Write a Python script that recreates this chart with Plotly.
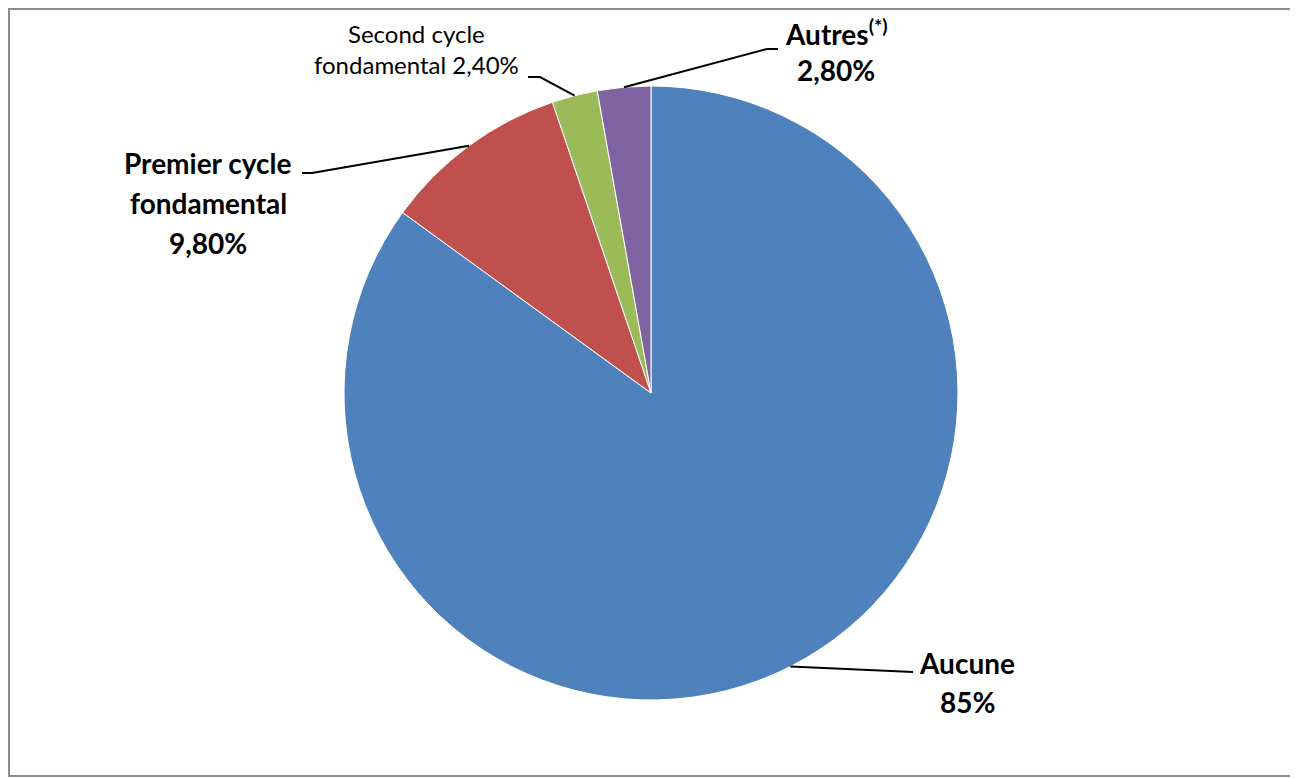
import math
import plotly.graph_objects as go

# data
labels = ["Aucune", "Premier cycle fondamental", "Second cycle fondamental", "Autres(*)"]
values = [85.0, 9.8, 2.4, 2.8]
colors = ["#4F81BD", "#C0504D", "#9BBB59", "#8064A2"]

# label text (one entry per line), styled as in the original
label_lines = [
    ["<b>Aucune</b>", "<b>85%</b>"],
    ["<b>Premier cycle</b>", "<b>fondamental</b>", "<b>9,80%</b>"],
    ["Second cycle", "fondamental 2,40%"],
    ["<b>Autres<sup>(*)</sup></b>", "<b>2,80%</b>"],
]

# page body has an 8px margin, so the figure is shifted by that much
OFF = 8
W, H = 1298 - OFF, 779 - OFF
CX, CY, R = 651, 393, 307

# label layout in page pixels: text centre x, first baseline y, line step, font size
label_layout = [
    dict(x=967, y=673, step=39, size=28),
    dict(x=208, y=173, step=40, size=28),
    dict(x=417, y=42, step=31, size=24),
    dict(x=836, y=43, step=37, size=28),
]
# leader lines: elbow and end point in page pixels
leader = [
    [(913, 672)],
    [(312, 173), (302, 173)],
    [(540, 77), (528, 77)],
    [(767, 49), (778, 49)],
]


def px(x):
    return (x - OFF) / W


def py(y):
    return 1 - (y - OFF) / H


fig = go.Figure()
fig.add_trace(go.Pie(
    labels=labels,
    values=values,
    marker=dict(colors=colors, line=dict(color="white", width=1)),
    sort=False,
    direction="clockwise",
    rotation=0,
    textinfo="none",
    showlegend=False,
    domain=dict(x=[px(CX - R), px(CX + R)], y=[py(CY + R), py(CY - R)]),
))

annotations = []
shapes = []
total = sum(values)
cum = 0.0
for i, v in enumerate(values):
    mid = (cum + v / 2) / total * 2 * math.pi
    cum += v
    sx = CX + R * math.sin(mid)
    sy = CY - R * math.cos(mid)
    pts = [(sx, sy)] + leader[i]
    path = "M " + " L ".join(f"{px(x)},{py(y)}" for x, y in pts)
    shapes.append(dict(type="path", path=path, xref="paper", yref="paper",
                       line=dict(color="black", width=2)))

    lay = label_layout[i]
    for j, line in enumerate(label_lines[i]):
        base = lay["y"] + j * lay["step"]
        annotations.append(dict(
            x=px(lay["x"]), y=py(base - 0.36 * lay["size"]),
            xref="paper", yref="paper", xanchor="center", yanchor="middle",
            text=line, showarrow=False,
            font=dict(family="Lato, Open Sans, sans-serif", size=lay["size"], color="black"),
        ))

# outer frame
shapes.append(dict(type="rect", xref="paper", yref="paper",
                   x0=px(9), y0=py(776), x1=px(1292), y1=py(9),
                   line=dict(color="#8c8c8c", width=2)))

fig.update_layout(
    width=W, height=H,
    margin=dict(l=0, r=0, t=0, b=0),
    paper_bgcolor="white",
    plot_bgcolor="white",
    shapes=shapes,
    annotations=annotations,
)

fig.write_html("out.html")
